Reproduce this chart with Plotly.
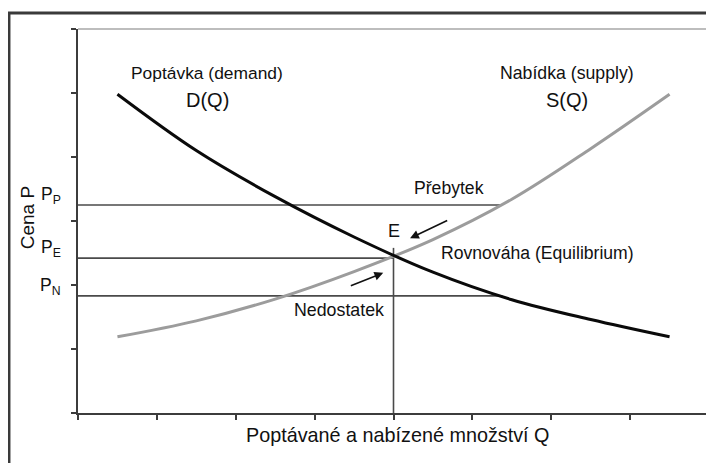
import plotly.graph_objects as go

# Demand / supply curves (quantity Q, price P)
demand_q = [0.5, 1.5, 2.5, 3.5, 4.5, 5.5, 6.5, 7.5]
demand_p = [4.98, 4.10, 3.38, 2.75, 2.20, 1.77, 1.46, 1.19]
supply_q = [0.5, 1.5, 2.5, 3.5, 4.5, 5.5, 6.5, 7.5]
supply_p = [1.19, 1.44, 1.78, 2.21, 2.71, 3.34, 4.13, 4.98]

# Price levels P_P, P_E, P_N and how far their guide lines run along Q
price_labels = ["P<sub>P</sub>", "P<sub>E</sub>", "P<sub>N</sub>"]
price_levels = [3.25, 2.42, 1.83]
price_line_end = [5.36, 4.0, 5.38]

# Equilibrium quantity and the top of its guide line
eq_q = 4.0
eq_line_top = 2.58

x_ticks = [0, 1, 2, 3, 4, 5, 6, 7, 8]
y_ticks = [0, 1, 2, 3, 4, 5, 6]

FONT = "Liberation Sans, Arial, sans-serif"
AXIS = "#3c3c3c"
GUIDE = "#4a4a4a"
INK = "#111111"

fig = go.Figure()

# guide lines for the three price levels
for level, end in zip(price_levels, price_line_end):
    fig.add_trace(go.Scatter(
        x=[0, end], y=[level, level], mode="lines",
        line=dict(color=GUIDE, width=1.6), hoverinfo="skip",
    ))

# vertical line at the equilibrium quantity
fig.add_trace(go.Scatter(
    x=[eq_q, eq_q], y=[0, eq_line_top], mode="lines",
    line=dict(color=GUIDE, width=1.6), hoverinfo="skip",
))

fig.add_trace(go.Scatter(
    x=supply_q, y=supply_p, mode="lines", name="S(Q)",
    line=dict(color="#9c9c9c", width=3, shape="spline", smoothing=1.0),
))
fig.add_trace(go.Scatter(
    x=demand_q, y=demand_p, mode="lines", name="D(Q)",
    line=dict(color="#0a0a0a", width=3, shape="spline", smoothing=1.0),
))

# the page body adds an 8px margin, so the figure is 8px smaller
fig.update_layout(
    width=706, height=455,
    margin=dict(l=70, r=5, t=21, b=50),
    paper_bgcolor="white", plot_bgcolor="white",
    showlegend=False,
    font=dict(family=FONT, color=INK),
)
fig.update_xaxes(
    range=[0, 8], tickvals=x_ticks, showticklabels=False,
    ticks="outside", ticklen=5, tickwidth=1.5, tickcolor=AXIS,
    showline=True, linecolor=AXIS, linewidth=2, showgrid=False, zeroline=False,
)
fig.update_yaxes(
    range=[0, 6], tickvals=y_ticks, showticklabels=False,
    ticks="outside", ticklen=5, tickwidth=1.5, tickcolor=AXIS,
    showline=True, linecolor=AXIS, linewidth=2, showgrid=False, zeroline=False,
)

# light top/right edge of the plot area
fig.add_shape(type="line", xref="x domain", yref="y domain", x0=0, x1=1, y0=1, y1=1,
              line=dict(color="#bdbdbd", width=2))
fig.add_shape(type="line", xref="x domain", yref="y domain", x0=1, x1=1, y0=0, y1=1,
              line=dict(color="#bdbdbd", width=2))

# outer frame (cut off on the right and bottom in the original)
fig.add_shape(type="rect", xref="paper", yref="paper",
              x0=-0.1094, x1=1.1, y0=-0.22, y1=1.0417,
              line=dict(color="#3a3a3a", width=3), layer="below")


def label(text, x, y, size):
    fig.add_annotation(text=text, x=x, y=y, showarrow=False,
                       font=dict(family=FONT, size=size, color=INK))


label("Poptávka (demand)", 1.64, 5.31, 17.4)
label("D(Q)", 1.64, 4.89, 20)
label("Nabídka (supply)", 6.2, 5.31, 17.7)
label("S(Q)", 6.2, 4.89, 20)
label("Přebytek", 4.7, 3.52, 17.6)
label("E", eq_q, 2.84, 18)
label("Rovnováha (Equilibrium)", 5.82, 2.5, 17.6)
label("Nedostatek", 3.31, 1.61, 17.8)

for text, level in zip(price_labels, price_levels):
    fig.add_annotation(text=text, xref="paper", x=-0.024, y=level, xanchor="right",
                       yanchor="bottom", yshift=-4, showarrow=False,
                       font=dict(family=FONT, size=17.5, color=INK))

fig.add_annotation(text="Cena P", xref="paper", x=-0.08, xanchor="center", y=3.05,
                   textangle=-90, showarrow=False,
                   font=dict(family=FONT, size=19, color=INK))
fig.add_annotation(text="Poptávané a nabízené množství Q", x=4.06, yref="paper", y=-0.091,
                   showarrow=False, font=dict(family=FONT, size=19.8, color=INK))

# arrows towards the equilibrium point
fig.add_annotation(x=4.21, y=2.73, ax=4.70, ay=3.02, axref="x", ayref="y",
                   showarrow=True, arrowhead=2, arrowsize=1.1, arrowwidth=1.6,
                   arrowcolor=INK, text="")
fig.add_annotation(x=3.87, y=2.19, ax=3.44, ay=1.98, axref="x", ayref="y",
                   showarrow=True, arrowhead=2, arrowsize=1.1, arrowwidth=1.6,
                   arrowcolor=INK, text="")

fig.write_html("out.html")
